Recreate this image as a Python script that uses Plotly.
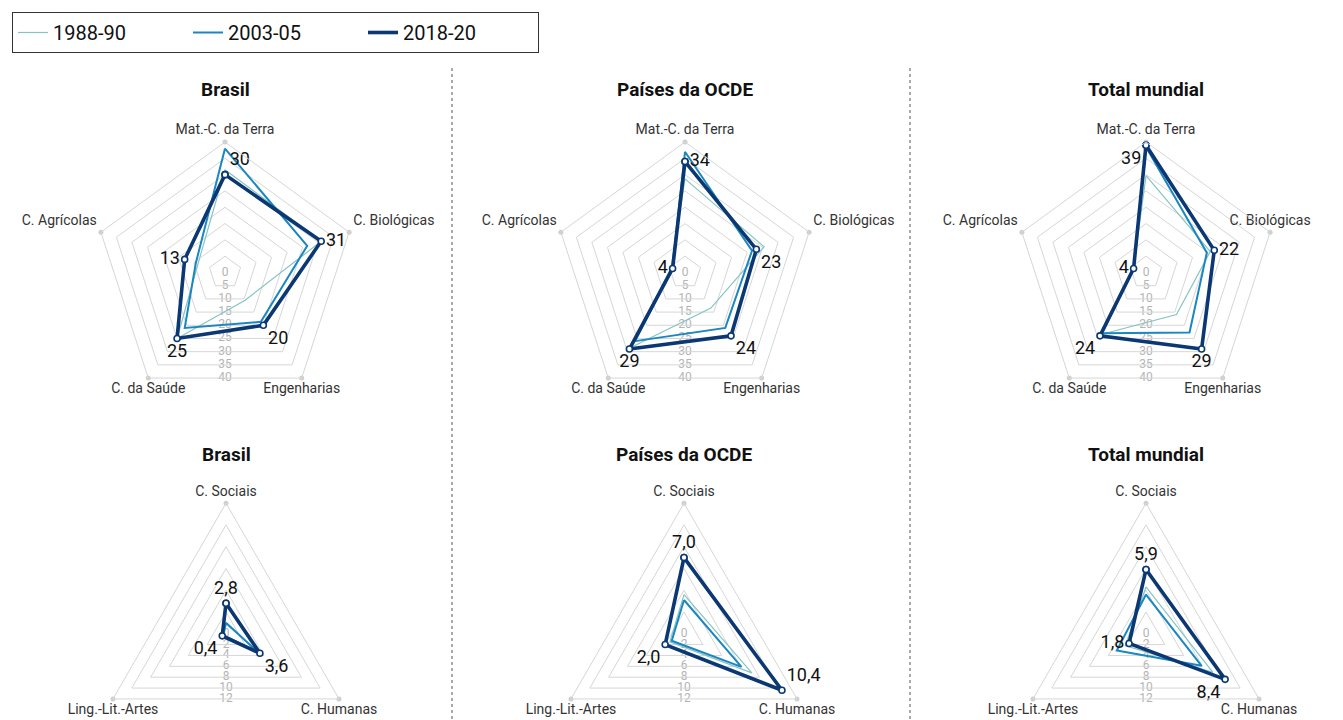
import plotly.graph_objects as go

OFF = 8  # page body margin in the browser
W, H = 1343, 770 - OFF

YEARS = ['1988-90', '2003-05', '2018-20']
COLORS = ['#86c4c4', '#1b87c0', '#0b3872']
WIDTHS = [1.2, 2.0, 3.6]

REGIONS = ['Brasil', 'Países da OCDE', 'Total mundial']
AREAS5 = ['Mat.-C. da Terra', 'C. Biológicas', 'Engenharias', 'C. da Saúde', 'C. Agrícolas']
AREAS3 = ['C. Sociais', 'C. Humanas', 'Ling.-Lit.-Artes']

TICKS5 = [0, 5, 10, 15, 20, 25, 30, 35, 40]
TICKS3 = [0, 2, 4, 6, 8, 10, 12]

# Pentagon charts (share of publications, %)
brasil5_1988 = [31.5, 31, 10.5, 25, 8.7]
brasil5_2003 = [38, 26.5, 18.7, 21, 9.4]
brasil5_2018 = [30, 31, 20, 25, 13]
ocde5_1988 = [28.7, 25.5, 13.5, 28.5, 4.5]
ocde5_2003 = [37, 21.6, 21, 26, 4.1]
ocde5_2018 = [34, 23, 24, 29, 4]
mundo5_1988 = [29.7, 20.7, 15.9, 23.5, 4]
mundo5_2003 = [38.5, 19.6, 22.7, 23, 4]
mundo5_2018 = [39, 22, 29, 24, 4]

# Triangle charts
brasil3_1988 = [0.9, 3.5, 0.2]
brasil3_2003 = [1.0, 3.4, 0.3]
brasil3_2018 = [2.8, 3.6, 0.4]
ocde3_1988 = [3.6, 7.2, 1.5]
ocde3_2003 = [3.1, 6.1, 1.3]
ocde3_2018 = [7.0, 10.4, 2.0]
mundo3_1988 = [4.3, 7.1, 2.2]
mundo3_2003 = [3.6, 5.9, 3.1]
mundo3_2018 = [5.9, 8.4, 1.8]

PENTA = [
    [brasil5_1988, brasil5_2003, brasil5_2018],
    [ocde5_1988, ocde5_2003, ocde5_2018],
    [mundo5_1988, mundo5_2003, mundo5_2018],
]
TRI = [
    [brasil3_1988, brasil3_2003, brasil3_2018],
    [ocde3_1988, ocde3_2003, ocde3_2018],
    [mundo3_1988, mundo3_2003, mundo3_2018],
]

PENTA_POS = [
    ['top right', 'middle right', 'bottom right', 'bottom center', 'middle left'],
    ['middle right', 'bottom right', 'bottom right', 'bottom center', 'middle left'],
    ['bottom left', 'middle right', 'bottom center', 'bottom left', 'middle left'],
]
TRI_POS = [
    ['top center', 'bottom right', 'bottom left'],
    ['top center', 'top right', 'bottom left'],
    ['top center', 'bottom left', 'middle left'],
]
PENTA_CAT_POS = [
    ['top center', 'top right', 'bottom center', 'bottom center', 'top left'],
    ['top center', 'top right', 'bottom center', 'bottom center', 'top left'],
    ['top center', 'top center', 'bottom center', 'bottom center', 'top left'],
]
TRI_CAT_POS = ['top center', 'bottom center', 'bottom center']

FONT = 'Roboto'
R = 130.5
TOP_CX = [225, 685, 1146]
TOP_CY = 272.5
BOT_CX = [226, 684, 1146]
BOT_CY = 633.7
COS36 = 0.809017
COS60 = 0.5


def px(x):
    return (x - OFF) / W


def py(y):
    return 1 - (y - OFF) / H


def dom(cx, cy):
    return dict(x=[px(cx - R), px(cx + R)], y=[py(cy + R), py(cy - R)])


fig = go.Figure()
layout = {}
counter = [0]


def new_id():
    counter[0] += 1
    n = counter[0]
    return ('polar' if n == 1 else 'polar%d' % n)


def add_chart(cx, cy, cats, series, ticks, factor, positions, cat_pos, fmt, legend):
    rmax = ticks[-1]
    # underlay polar for radial tick labels placed on the ring edges
    lid = new_id()
    layout[lid] = dict(
        domain=dom(cx, cy), bgcolor='rgba(0,0,0,0)',
        angularaxis=dict(visible=False, type='linear'),
        radialaxis=dict(visible=False, range=[0, rmax / factor]),
    )
    fig.add_trace(go.Scatterpolar(
        r=ticks, theta=[270] * len(ticks), mode='text', text=[str(t) for t in ticks],
        textfont=dict(family=FONT, size=12, color='#b4b4b4'), textposition='middle center',
        subplot=lid, showlegend=False, hoverinfo='skip', cliponaxis=False))

    mid = new_id()
    layout[mid] = dict(
        domain=dom(cx, cy), bgcolor='rgba(0,0,0,0)', gridshape='linear',
        angularaxis=dict(type='category', categoryarray=cats, rotation=90, direction='clockwise',
                         showgrid=False, showline=True, linecolor='#d6d6d6', linewidth=1,
                         ticks='', showticklabels=False),
        radialaxis=dict(range=[0, rmax], tickvals=ticks, showticklabels=False, ticks='',
                        showline=False, gridcolor='#d6d6d6', gridwidth=1),
    )
    # axis names at the outer vertices
    fig.add_trace(go.Scatterpolar(
        r=[rmax] * len(cats), theta=cats, mode='markers+text', text=cats,
        textposition=cat_pos, textfont=dict(family=FONT, size=14, color='#333333'),
        marker=dict(size=5, color='#d0d0d0'), subplot=mid, showlegend=False,
        hoverinfo='skip', cliponaxis=False))
    for i, vals in enumerate(series):
        rr = list(vals) + [vals[0]]
        tt = list(cats) + [cats[0]]
        last = i == len(series) - 1
        tr = dict(r=rr, theta=tt, name=YEARS[i], legendgroup=YEARS[i], showlegend=False,
                  line=dict(color=COLORS[i], width=WIDTHS[i]), subplot=mid, cliponaxis=False)
        if last:
            tr.update(mode='lines+markers+text',
                      marker=dict(size=6, color='white', line=dict(color=COLORS[i], width=1.6)),
                      text=[fmt(v) for v in vals] + [''],
                      textposition=list(positions) + ['middle center'],
                      textfont=dict(family=FONT, size=18, color='#111111'))
        else:
            tr.update(mode='lines')
        fig.add_trace(go.Scatterpolar(**tr))
    if legend:
        # line-only legend entries
        for i in range(len(series)):
            fig.add_trace(go.Scatterpolar(
                r=[None], theta=[cats[0]], mode='lines', name=YEARS[i], legendgroup=YEARS[i],
                showlegend=True, line=dict(color=COLORS[i], width=WIDTHS[i]), subplot=mid,
                hoverinfo='skip'))


for j in range(3):
    add_chart(TOP_CX[j], TOP_CY, AREAS5, PENTA[j], TICKS5, COS36, PENTA_POS[j], PENTA_CAT_POS[j],
              lambda v: str(int(round(v))), j == 0)
for j in range(3):
    add_chart(BOT_CX[j], BOT_CY, AREAS3, TRI[j], TICKS3, COS60, TRI_POS[j], TRI_CAT_POS,
              lambda v: ('%.1f' % v).replace('.', ','), False)

annotations = []
for j in range(3):
    for cx, yy in ((TOP_CX[j], 89), (BOT_CX[j], 455)):
        annotations.append(dict(text='<b>%s</b>' % REGIONS[j], x=px(cx), y=py(yy),
                                xref='paper', yref='paper', showarrow=False,
                                xanchor='center', yanchor='middle',
                                font=dict(family=FONT, size=19, color='#111111')))

shapes = []
for sx in (452, 910):
    shapes.append(dict(type='line', xref='paper', yref='paper', x0=px(sx), x1=px(sx),
                       y0=py(68), y1=0, line=dict(color='#555555', width=1, dash='dot')))

fig.update_layout(
    width=W, height=H, margin=dict(l=0, r=0, t=0, b=0),
    paper_bgcolor='white', plot_bgcolor='white',
    font=dict(family=FONT, color='#333333'),
    annotations=annotations, shapes=shapes,
    legend=dict(orientation='h', x=px(12), y=py(12), xanchor='left', yanchor='top',
                bordercolor='#333333', borderwidth=1, bgcolor='white',
                font=dict(family=FONT, size=20, color='#111111'),
                entrywidth=130, entrywidthmode='pixels', traceorder='normal'),
    **layout,
)

fig.write_html("out.html")
